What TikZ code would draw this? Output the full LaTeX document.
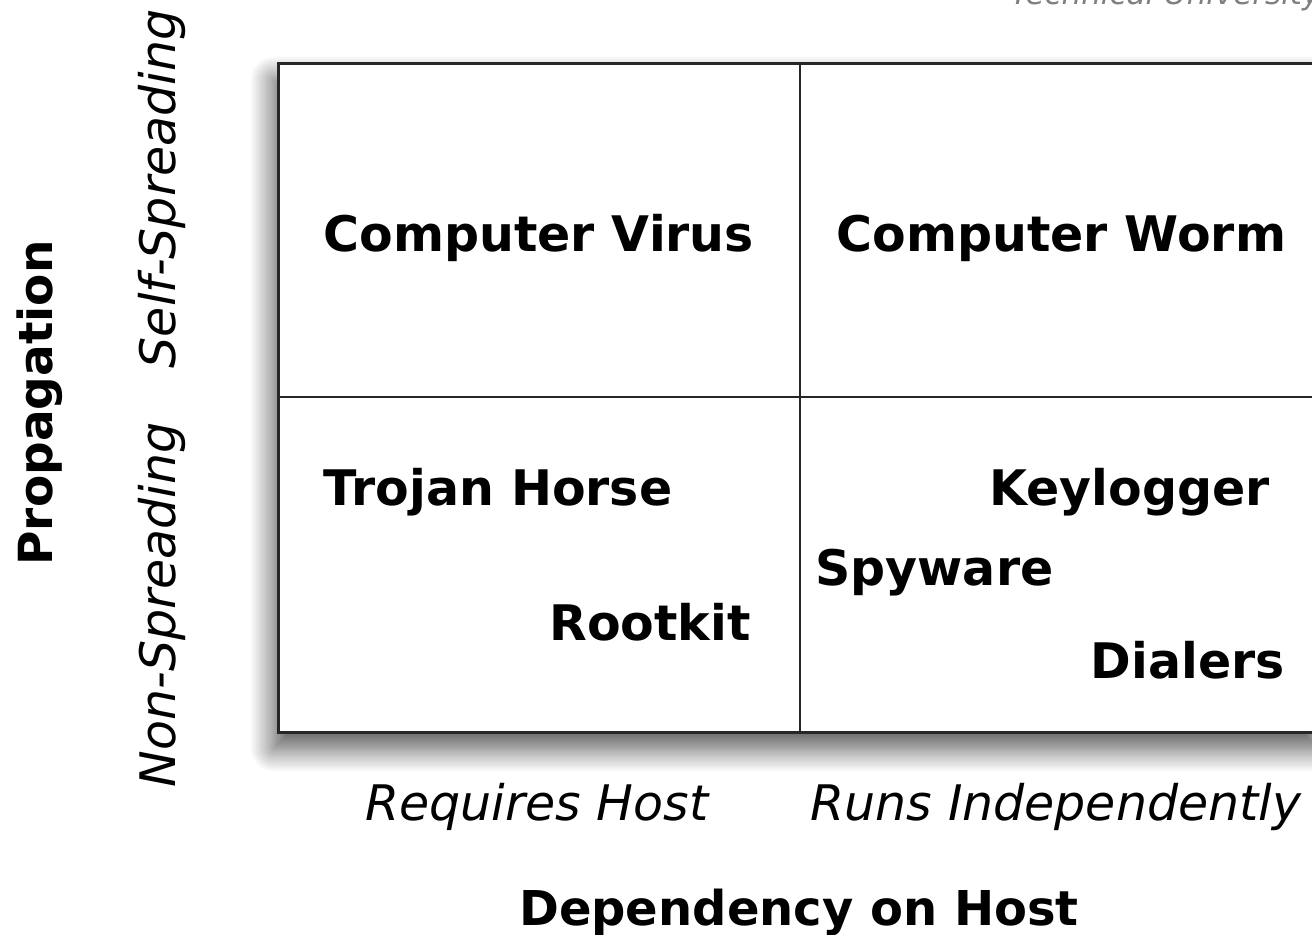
\documentclass[tikz,border=0pt]{standalone}
\usepackage{fontspec}
\setmainfont{DejaVu Sans}
\usetikzlibrary{shadows.blur}
\tikzset{
	cell/.style={font=\fontsize{24.5}{29}\selectfont\bfseries, inner sep=0pt},
	hostlabel/.style={font=\fontsize{24.5}{29}\selectfont\itshape, inner sep=0pt},
	axistitle/.style={font=\fontsize{24}{29}\selectfont\bfseries, inner sep=0pt},
	spreadlabel/.style={font=\fontsize{24.5}{29}\selectfont\itshape, inner sep=0pt, rotate=90, anchor=base},
	proptitle/.style={font=\fontsize{23.5}{28}\selectfont\bfseries, inner sep=0pt, rotate=90, anchor=base}
}

\begin{document}
\begin{tikzpicture}[x=0.5pt, y=-0.5pt]

			\useasboundingbox (0,0) rectangle (1312,935);

			% Draw the header text (cut off at the top)
			\node[font=\fontsize{15.5}{19}\selectfont\itshape, text=black!50, inner sep=0pt, anchor=base west] (header) at (1010,5) {Technical University};

			% Draw the frame with its shadow
			\draw[line width=1.5pt, draw=black!85, fill=white,
				blur shadow={shadow xshift=-2pt, shadow yshift=-8pt, shadow blur radius=12pt, shadow blur steps=20, shadow opacity=70}]
				(278,64) rectangle (1322,732);

			% Draw the dividing lines
			\draw[line width=1pt, draw=black!85] (800,64) -- (800,732);
			\draw[line width=1pt, draw=black!85] (278,397) -- (1322,397);

			% Draw the cell entries
			\node[cell, anchor=base west] (virus) at (323,252) {Computer Virus};
			\node[cell, anchor=base west] (worm) at (836,252) {Computer Worm};
			\node[cell, anchor=base west] (trojan) at (323,505) {Trojan Horse};
			\node[cell, anchor=base east] (rootkit) at (751,640) {Rootkit};
			\node[cell, anchor=base east] (keylogger) at (1270,505) {Keylogger};
			\node[cell, anchor=base west] (spyware) at (815,585) {Spyware};
			\node[cell, anchor=base east] (dialers) at (1285,678) {Dialers};

			% Draw the column labels
			\node[hostlabel, anchor=base] (requires) at (537,820) {Requires Host};
			\node[hostlabel, anchor=base] (independent) at (1056,820) {Runs Independently};
			\node[axistitle, anchor=base] (dependency) at (799,925) {Dependency on Host};

			% Draw the row labels
			\node[spreadlabel] (self) at (175,189) {Self-Spreading};
			\node[spreadlabel] (non) at (175,605) {Non-Spreading};
			\node[proptitle] (propagation) at (52,403) {Propagation};

		\end{tikzpicture}
\end{document}
